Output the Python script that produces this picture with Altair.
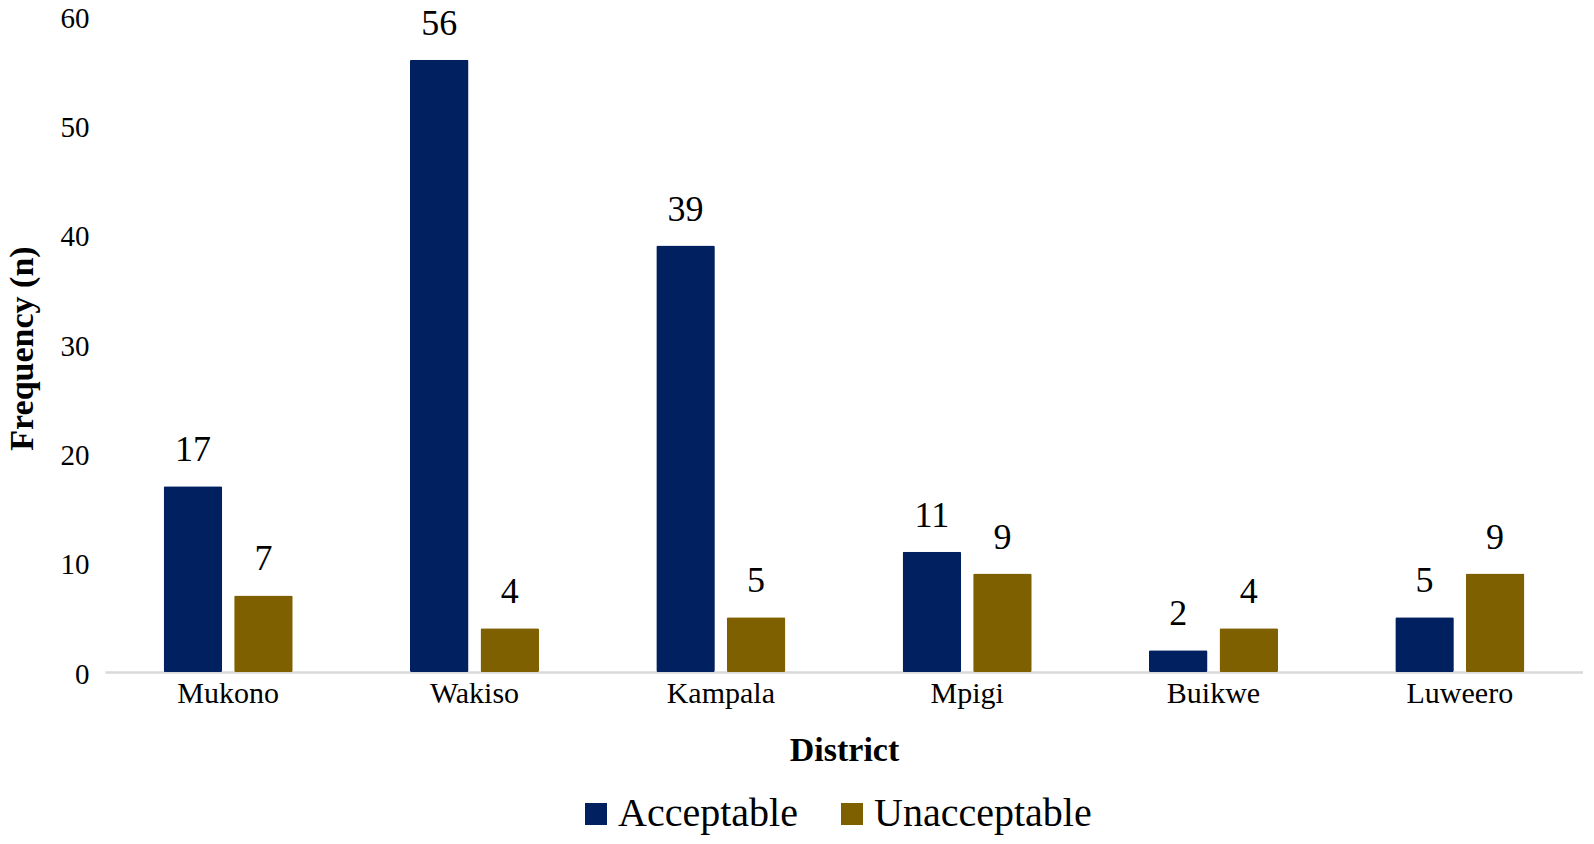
import altair as alt
import pandas as pd

districts = ["Mukono", "Wakiso", "Kampala", "Mpigi", "Buikwe", "Luweero"]
acceptable = [17, 56, 39, 11, 2, 5]
unacceptable = [7, 4, 5, 9, 4, 9]
groups = ["Acceptable", "Unacceptable"]
colors = ["#002060", "#7F6000"]

rows = []
for d, a, u in zip(districts, acceptable, unacceptable):
    rows.append({"District": d, "Group": groups[0], "Value": a})
    rows.append({"District": d, "Group": groups[1], "Value": u})
df = pd.DataFrame(rows)

FONT = "Liberation Serif"
W, H = 1478, 656

x = alt.X("District:N", sort=districts,
          scale=alt.Scale(paddingInner=0.476, paddingOuter=0.238),
          axis=alt.Axis(title="District", labelAngle=0, labelFont=FONT, labelFontSize=30,
                        labelColor="#000000", labelPadding=6, ticks=False,
                        domainColor="#D9D9D9", domainWidth=2.5,
                        titleFont=FONT, titleFontSize=34, titleFontWeight="bold",
                        titleColor="#000000", titlePadding=25))
xo = alt.XOffset("Group:N", sort=groups,
                 scale=alt.Scale(paddingInner=0.17, paddingOuter=0))
y = alt.Y("Value:Q", scale=alt.Scale(domain=[0, 60], nice=False),
          axis=alt.Axis(title="Frequency (n)", values=[0, 10, 20, 30, 40, 50, 60],
                        grid=False, domain=False, ticks=False, labelFont=FONT,
                        labelFontSize=29, labelColor="#000000", labelPadding=16,
                        labelOffset=2,
                        titleFont=FONT, titleFontSize=34, titleFontWeight="bold",
                        titleColor="#000000", titleAngle=270, titleBaseline="alphabetic",
                        titleX=-73, titleY=H / 2 + 4, titleAlign="center"))
color = alt.Color("Group:N", sort=groups, scale=alt.Scale(domain=groups, range=colors),
                  legend=alt.Legend(title=None, orient="none", direction="horizontal",
                                    legendX=471, legendY=778, symbolType="square",
                                    symbolSize=484, symbolStrokeWidth=0,
                                    symbolOpacity=1, labelFont=FONT, labelFontSize=40,
                                    labelColor="#000000", labelOffset=2,
                                    labelLimit=600, columnPadding=34))

bars = alt.Chart(df).mark_bar(cornerRadius=1.5).encode(x=x, xOffset=xo, y=y, color=color)
labels = alt.Chart(df).mark_text(font=FONT, fontSize=36, color="#000000",
                                 baseline="alphabetic", dy=-25).encode(
    x=x, xOffset=xo, y=y, text="Value:Q")

chart = (bars + labels).properties(
    width=W, height=H,
    autosize=alt.AutoSizeParams(type="none"),
    padding={"left": 97, "top": 8, "right": 0, "bottom": 164},
).configure_view(stroke=None)

chart.save("out.html", embed_options={"renderer": "svg", "actions": False})
